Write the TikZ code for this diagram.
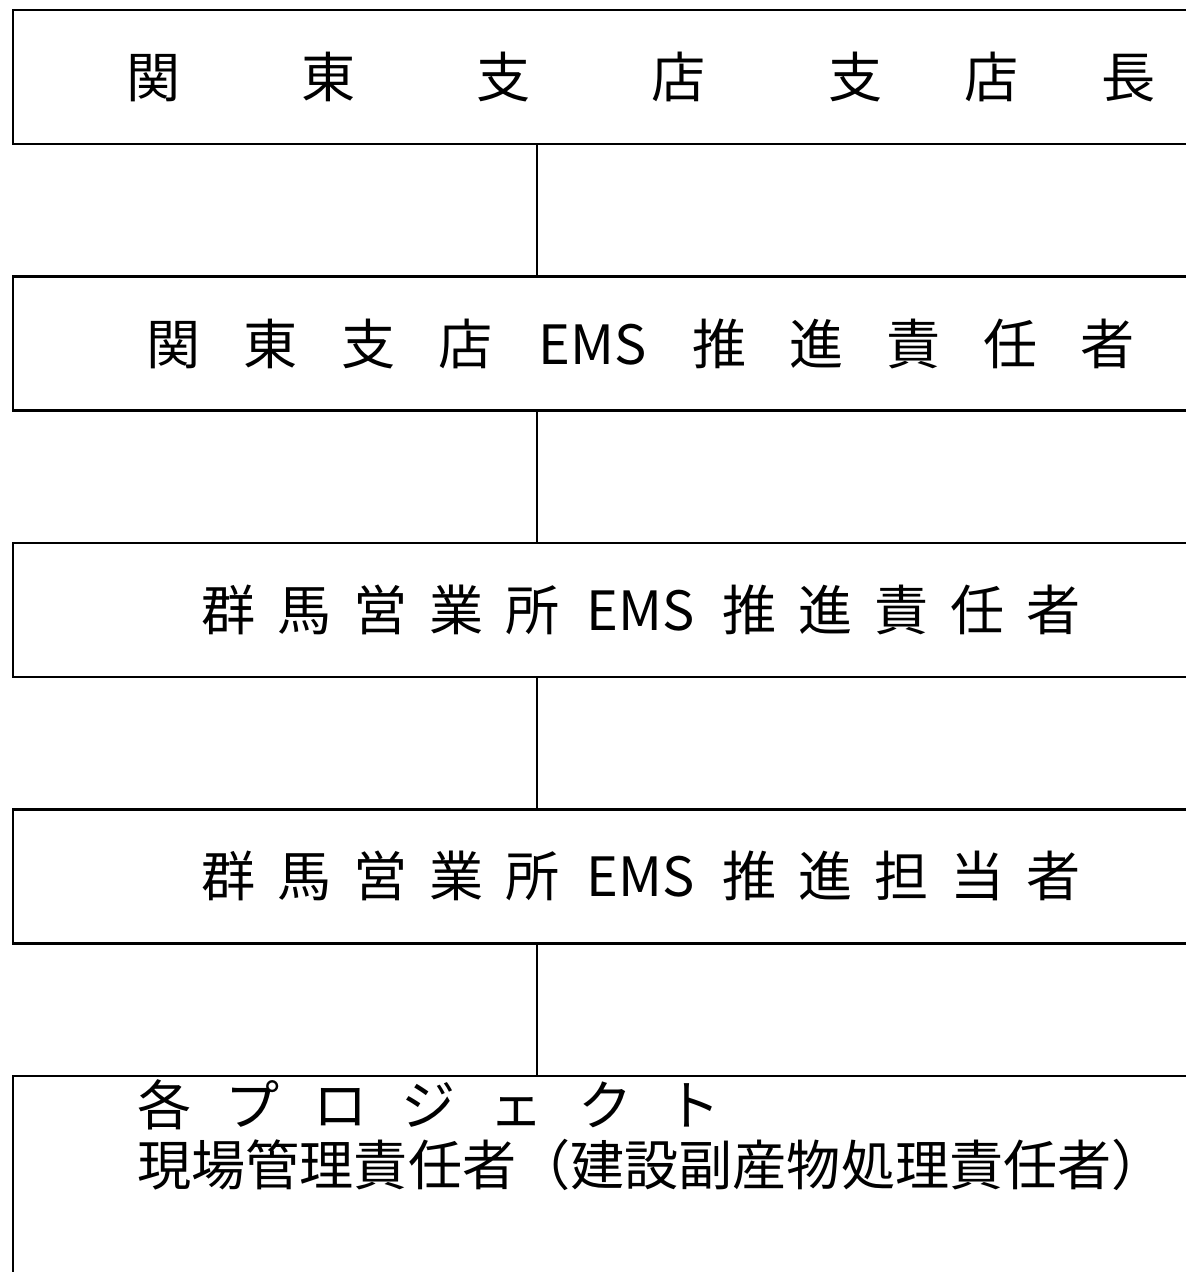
\documentclass[tikz,border=0pt]{standalone}
\usepackage{fontspec}
\setmainfont{Noto Sans CJK JP}
\usetikzlibrary{positioning}

\begin{document}
\begin{tikzpicture}[
  orgbox/.style={draw, line width=0.7pt, minimum width=12.56cm, minimum height=1.34cm, inner sep=0pt},
  every node/.style={font=\fontsize{15.4pt}{17pt}\selectfont}
]
\path[use as bounding box, clip] (0,0) rectangle (11.86,-12.72);
\coordinate (spine) at (5.37,0);
\node[orgbox] (shitencho) at (6.41,-0.77) {関\hspace{1.21cm}東\hspace{1.21cm}支\hspace{1.21cm}店\hspace{1.23cm}支\hspace{0.82cm}店\hspace{0.83cm}長};
\node[orgbox, below=1.30cm of shitencho] (kantoems) {関\hspace{0.43cm}東\hspace{0.43cm}支\hspace{0.43cm}店\hspace{0.46cm}EMS\hspace{0.46cm}推\hspace{0.43cm}進\hspace{0.43cm}責\hspace{0.43cm}任\hspace{0.43cm}者};
\node[orgbox, below=1.30cm of kantoems] (gunmaems) {群\hspace{0.22cm}馬\hspace{0.22cm}営\hspace{0.22cm}業\hspace{0.22cm}所\hspace{0.27cm}EMS\hspace{0.27cm}推\hspace{0.22cm}進\hspace{0.22cm}責\hspace{0.22cm}任\hspace{0.22cm}者};
\node[orgbox, below=1.30cm of gunmaems] (gunmatanto) {群\hspace{0.22cm}馬\hspace{0.22cm}営\hspace{0.22cm}業\hspace{0.22cm}所\hspace{0.27cm}EMS\hspace{0.27cm}推\hspace{0.22cm}進\hspace{0.22cm}担\hspace{0.22cm}当\hspace{0.22cm}者};
\node[orgbox, minimum height=3cm, below=1.30cm of gunmatanto] (project) {};
\node[anchor=north west, inner sep=0pt, align=left, font=\fontsize{15.4pt}{0.6cm}\selectfont] (projtext) at ([xshift=1.25cm, yshift=-0.04cm]project.north west)
  {各\hspace{0.34cm}プ\hspace{0.34cm}ロ\hspace{0.34cm}ジ\hspace{0.34cm}ェ\hspace{0.34cm}ク\hspace{0.34cm}ト\\現場管理責任者（建設副産物処理責任者）};
\draw[line width=0.7pt] (shitencho.south -| spine) -- (kantoems.north -| spine);
\draw[line width=0.7pt] (kantoems.south -| spine) -- (gunmaems.north -| spine);
\draw[line width=0.7pt] (gunmaems.south -| spine) -- (gunmatanto.north -| spine);
\draw[line width=0.7pt] (gunmatanto.south -| spine) -- (project.north -| spine);
\end{tikzpicture}
\end{document}
